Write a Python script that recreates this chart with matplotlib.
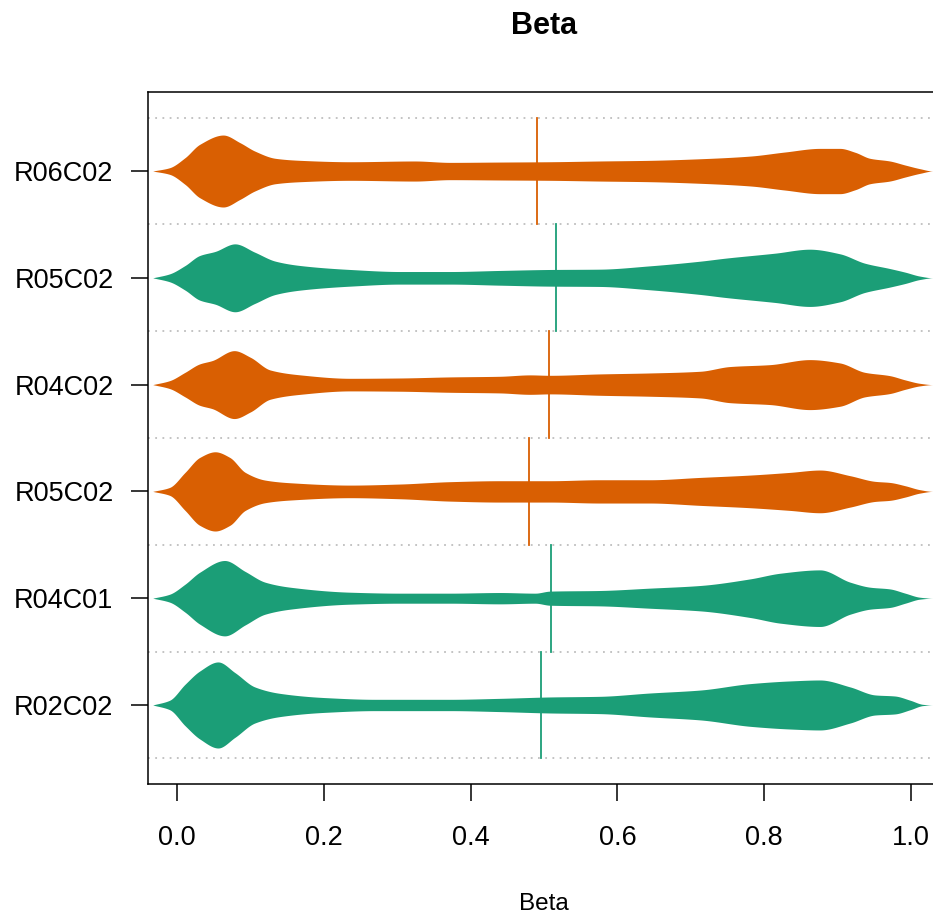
import numpy as np
import matplotlib
matplotlib.use("Agg")
import matplotlib.pyplot as plt

plt.rcParams['font.family'] = ['Liberation Sans', 'DejaVu Sans']

# ---- data ----
labels = ["R02C02", "R04C01", "R05C02", "R04C02", "R05C02", "R06C02"]  # bottom -> top
colors = ["#1B9E77", "#1B9E77", "#D95F02", "#D95F02", "#1B9E77", "#D95F02"]
medians = [0.496, 0.510, 0.479, 0.507, 0.517, 0.490]

# violin profiles: beta value and half-width (in units of the row spacing)
r02c02_x = [-0.033, -0.010, 0.011, 0.031, 0.056, 0.079, 0.106, 0.140, 0.202, 0.270, 0.372, 0.440, 0.508,
            0.576, 0.644, 0.713, 0.781, 0.835, 0.876, 0.917, 0.951, 0.978, 0.999, 1.016, 1.030, 1.040]
r02c02_w = [0.0, 0.044, 0.194, 0.318, 0.403, 0.303, 0.169, 0.109, 0.069, 0.053, 0.053, 0.062, 0.075,
            0.081, 0.112, 0.140, 0.200, 0.225, 0.234, 0.169, 0.094, 0.084, 0.044, 0.006, 0.0, 0.0]

r04c01_x = [-0.033, -0.010, 0.011, 0.031, 0.065, 0.093, 0.120, 0.154, 0.236, 0.304, 0.372, 0.440, 0.488,
            0.508, 0.576, 0.644, 0.713, 0.781, 0.822, 0.876, 0.917, 0.944, 0.971, 0.992, 1.012, 1.030, 1.040]
r04c01_w = [0.0, 0.037, 0.131, 0.243, 0.353, 0.250, 0.150, 0.103, 0.056, 0.047, 0.047, 0.053, 0.047,
            0.066, 0.072, 0.094, 0.119, 0.181, 0.234, 0.265, 0.150, 0.103, 0.087, 0.047, 0.009, 0.0, 0.0]

r05c02a_x = [-0.033, -0.010, 0.011, 0.031, 0.052, 0.072, 0.093, 0.120, 0.154, 0.236, 0.304, 0.372, 0.440,
             0.508, 0.576, 0.644, 0.713, 0.781, 0.835, 0.876, 0.917, 0.951, 0.971, 0.992, 1.012, 1.030, 1.040]
r05c02a_w = [0.0, 0.037, 0.178, 0.318, 0.371, 0.318, 0.178, 0.106, 0.081, 0.059, 0.069, 0.091, 0.100,
             0.100, 0.109, 0.109, 0.131, 0.153, 0.178, 0.200, 0.147, 0.094, 0.084, 0.053, 0.016, 0.0, 0.0]

r04c02_x = [-0.033, -0.010, 0.011, 0.031, 0.048, 0.078, 0.100, 0.127, 0.168, 0.236, 0.304, 0.372, 0.440,
            0.481, 0.508, 0.576, 0.644, 0.713, 0.753, 0.808, 0.862, 0.903, 0.937, 0.971, 0.992, 1.012, 1.030, 1.040]
r04c02_w = [0.0, 0.037, 0.115, 0.194, 0.225, 0.318, 0.256, 0.137, 0.091, 0.059, 0.062, 0.072, 0.078,
            0.091, 0.087, 0.100, 0.109, 0.125, 0.169, 0.187, 0.234, 0.203, 0.115, 0.084, 0.044, 0.012, 0.0, 0.0]

r05c02b_x = [-0.033, -0.010, 0.011, 0.031, 0.052, 0.079, 0.106, 0.134, 0.168, 0.236, 0.304, 0.372, 0.440,
             0.508, 0.576, 0.644, 0.713, 0.747, 0.815, 0.862, 0.903, 0.937, 0.971, 0.992, 1.012, 1.030, 1.040]
r05c02b_w = [0.0, 0.037, 0.115, 0.209, 0.247, 0.318, 0.240, 0.156, 0.115, 0.078, 0.059, 0.059, 0.069,
             0.078, 0.081, 0.112, 0.156, 0.184, 0.231, 0.268, 0.225, 0.137, 0.087, 0.053, 0.016, 0.0, 0.0]

r06c02_x = [-0.033, -0.010, 0.011, 0.031, 0.063, 0.086, 0.106, 0.134, 0.168, 0.236, 0.324, 0.372, 0.440,
            0.508, 0.576, 0.644, 0.713, 0.781, 0.828, 0.876, 0.903, 0.924, 0.944, 0.971, 0.992, 1.012, 1.030, 1.040]
r06c02_w = [0.0, 0.031, 0.125, 0.250, 0.337, 0.265, 0.187, 0.119, 0.100, 0.087, 0.094, 0.081, 0.084,
            0.087, 0.094, 0.100, 0.115, 0.140, 0.178, 0.212, 0.212, 0.175, 0.119, 0.094, 0.056, 0.022, 0.0, 0.0]

profiles_x = [r02c02_x, r04c01_x, r05c02a_x, r04c02_x, r05c02b_x, r06c02_x]
profiles_w = [r02c02_w, r04c01_w, r05c02a_w, r04c02_w, r05c02b_w, r06c02_w]
xticks = [0.0, 0.2, 0.4, 0.6, 0.8, 1.0]


def smooth_outline(x, y, n=600):
    """Monotone cubic (PCHIP-style) curve through the read points, for drawing only."""
    x = np.asarray(x, float)
    y = np.asarray(y, float)
    h = np.diff(x)
    d = np.diff(y) / h
    m = np.zeros_like(y)
    for k in range(1, len(x) - 1):
        if d[k - 1] * d[k] > 0:
            w1 = 2 * h[k] + h[k - 1]
            w2 = h[k] + 2 * h[k - 1]
            m[k] = (w1 + w2) / (w1 / d[k - 1] + w2 / d[k])
    m[0] = d[0]
    m[-1] = d[-1]
    xs = np.linspace(x[0], x[-1], n)
    idx = np.clip(np.searchsorted(x, xs) - 1, 0, len(x) - 2)
    t = (xs - x[idx]) / h[idx]
    h00 = 2 * t**3 - 3 * t**2 + 1
    h10 = t**3 - 2 * t**2 + t
    h01 = -2 * t**3 + 3 * t**2
    h11 = t**3 - t**2
    ys = h00 * y[idx] + h10 * h[idx] * m[idx] + h01 * y[idx + 1] + h11 * h[idx] * m[idx + 1]
    return xs, np.clip(ys, 0, None)


# ---- figure ----
W, H = 933, 915
fig = plt.figure(figsize=(W / 100, H / 100), dpi=100)
ax_left, ax_right, ax_top, ax_bot = 147.6, 940.4, 92, 784
ax = fig.add_axes([ax_left / W, 1 - ax_bot / H, (ax_right - ax_left) / W, (ax_bot - ax_top) / H])
ax.set_xlim(-0.04, 1.04)
ax.set_ylim(0.26, 6.74)

positions = np.arange(1, len(labels) + 1)

# dotted separators
for y in np.arange(0.5, len(labels) + 1, 1.0):
    ax.axhline(y, color="#BEBEBE", lw=1.3, linestyle=(0, (1, 3)), zorder=1)

for pos, px, pw, col, med in zip(positions, profiles_x, profiles_w, colors, medians):
    xs, ws = smooth_outline(px, pw)
    ax.fill_between(xs, pos - ws, pos + ws, color=col, lw=0, zorder=2)
    ax.plot([med, med], [pos - 0.5, pos + 0.5], color=col, lw=1.3, zorder=3)

ax.set_yticks(positions)
ax.set_yticklabels(labels)
ax.set_xticks(xticks)
ax.set_xticklabels([f"{t:.1f}" for t in xticks])

for s in ["left", "top", "bottom"]:
    ax.spines[s].set_linewidth(1.1)
    ax.spines[s].set_color("black")
ax.spines["right"].set_visible(False)

ax.tick_params(axis="both", length=12.5, width=1.1, labelsize=19.5, colors="black")
ax.tick_params(axis="x", pad=17)
ax.tick_params(axis="y", pad=12)

fig.text((ax_left + ax_right) / 2 / W, 1 - 34 / H, "Beta", ha="center", va="baseline",
         fontsize=22, fontweight="bold")
fig.text((ax_left + ax_right) / 2 / W, 1 - 910 / H, "Beta", ha="center", va="baseline",
         fontsize=17.5)

fig.savefig("out.png", dpi=100)
